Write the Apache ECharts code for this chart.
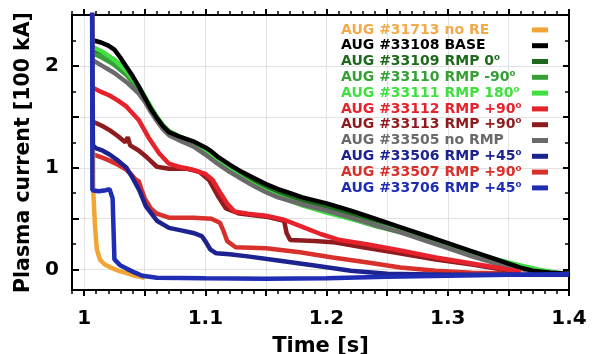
<!DOCTYPE html>
<html><head><meta charset="utf-8">
<script src="https://cdn.jsdelivr.net/npm/echarts@6/dist/echarts.min.js"></script>
<style>html,body{margin:0;padding:0;background:#fff}#c{width:594px;height:354px}</style>
</head><body><div id="c"></div>
<script>
// ---- data (time [s], plasma current [100 kA]) ----
const names = [
  'AUG #31713 no RE', 'AUG #33108 BASE', 'AUG #33109 RMP 0\u2070', 'AUG #33110 RMP -90\u2070',
  'AUG #33111 RMP 180\u2070', 'AUG #33112 RMP +90\u2070', 'AUG #33113 RMP +90\u2070', 'AUG #33505 no RMP',
  'AUG #33506 RMP +45\u2070', 'AUG #33507 RMP +90\u2070', 'AUG #33706 RMP +45\u2070'
];
const colors = ['#f0a535', '#000000', '#1d6a1d', '#36a036', '#3fe03f', '#e8222c', '#8e1b1e', '#6a6a6a', '#1c2290', '#d8302a', '#1f2db4'];
const legendTextColors = ['#f2ab48', '#000000', '#1d6a1d', '#36a036', '#3fe03f', '#e8222c', '#8e1b1e', '#6a6a6a', '#1c2290', '#d8302a', '#1f2db4'];

const s31713 = [[1.0068,2.6],[1.0075,0.78],[1.009,0.42],[1.0105,0.2],[1.013,0.1],[1.017,0.05],[1.022,0.02],[1.028,-0.01],[1.035,-0.035],[1.042,-0.06],[1.05,-0.08]];
const s33108 = [[1.008,2.25],[1.014,2.23],[1.02,2.2],[1.025,2.16],[1.03,2.08],[1.035,1.99],[1.04,1.9],[1.045,1.8],[1.05,1.69],[1.055,1.58],[1.06,1.49],[1.065,1.41],[1.07,1.35],[1.08,1.3],[1.09,1.26],[1.1,1.2],[1.105,1.16],[1.11,1.11],[1.12,1.03],[1.13,0.96],[1.14,0.9],[1.15,0.84],[1.16,0.79],[1.17,0.75],[1.18,0.71],[1.2,0.65],[1.22,0.58],[1.24,0.5],[1.26,0.42],[1.28,0.34],[1.3,0.26],[1.32,0.18],[1.34,0.1],[1.35,0.06],[1.36,0.02],[1.37,-0.01],[1.385,-0.03],[1.4,-0.04]];
const s33109 = [[1.008,2.16],[1.015,2.13],[1.025,2.06],[1.035,1.95],[1.045,1.79],[1.05,1.69],[1.055,1.58],[1.06,1.49],[1.065,1.41],[1.07,1.35],[1.08,1.29],[1.09,1.25],[1.1,1.19],[1.11,1.1],[1.12,1.01],[1.13,0.94],[1.14,0.87],[1.15,0.81],[1.16,0.76],[1.18,0.68],[1.2,0.61],[1.22,0.54],[1.24,0.47],[1.26,0.4],[1.28,0.32],[1.3,0.24],[1.32,0.16],[1.34,0.09],[1.355,0.04],[1.37,0.0],[1.385,-0.03],[1.4,-0.04]];
const s33110 = [[1.008,2.12],[1.015,2.08],[1.025,2.01],[1.035,1.91],[1.045,1.77],[1.05,1.68],[1.055,1.58],[1.06,1.48],[1.065,1.4],[1.07,1.34],[1.08,1.28],[1.09,1.23],[1.1,1.16],[1.11,1.06],[1.12,0.97],[1.13,0.9],[1.14,0.83],[1.15,0.77],[1.16,0.72],[1.18,0.64],[1.2,0.57],[1.22,0.5],[1.24,0.43],[1.26,0.37],[1.28,0.3],[1.3,0.22],[1.32,0.15],[1.34,0.08],[1.36,0.03],[1.37,0.0],[1.385,-0.03],[1.4,-0.04]];
const s33111 = [[1.008,2.18],[1.015,2.14],[1.025,2.06],[1.035,1.95],[1.045,1.8],[1.05,1.7],[1.055,1.6],[1.06,1.5],[1.065,1.42],[1.07,1.36],[1.08,1.3],[1.09,1.25],[1.1,1.18],[1.11,1.07],[1.12,0.98],[1.13,0.9],[1.14,0.83],[1.15,0.77],[1.16,0.72],[1.18,0.63],[1.2,0.56],[1.22,0.5],[1.24,0.44],[1.26,0.38],[1.28,0.31],[1.3,0.24],[1.32,0.17],[1.34,0.1],[1.36,0.04],[1.375,0.0],[1.39,-0.03],[1.4,-0.04]];
const s33112 = [[1.008,1.78],[1.015,1.74],[1.021,1.71],[1.028,1.66],[1.035,1.6],[1.045,1.47],[1.053,1.3],[1.062,1.14],[1.07,1.04],[1.078,1.01],[1.09,0.98],[1.1,0.94],[1.106,0.88],[1.112,0.76],[1.118,0.65],[1.124,0.57],[1.135,0.55],[1.15,0.53],[1.165,0.49],[1.18,0.42],[1.195,0.35],[1.211,0.29],[1.233,0.25],[1.26,0.19],[1.29,0.12],[1.32,0.06],[1.34,0.02],[1.36,-0.02]];
const s33113 = [[1.008,1.45],[1.015,1.41],[1.021,1.37],[1.028,1.31],[1.034,1.25],[1.036,1.3],[1.038,1.22],[1.045,1.17],[1.052,1.1],[1.06,1.01],[1.07,0.99],[1.085,0.99],[1.095,0.96],[1.103,0.88],[1.111,0.71],[1.117,0.6],[1.128,0.55],[1.15,0.52],[1.165,0.48],[1.167,0.36],[1.17,0.29],[1.19,0.28],[1.205,0.27],[1.23,0.22],[1.26,0.16],[1.29,0.1],[1.32,0.05],[1.34,0.01],[1.36,-0.03]];
const s33505 = [[1.008,2.05],[1.015,2.0],[1.025,1.93],[1.035,1.84],[1.045,1.73],[1.05,1.65],[1.055,1.55],[1.06,1.46],[1.065,1.38],[1.07,1.32],[1.08,1.26],[1.09,1.21],[1.1,1.13],[1.11,1.04],[1.12,0.96],[1.13,0.89],[1.14,0.82],[1.15,0.76],[1.16,0.71],[1.18,0.64],[1.2,0.58],[1.22,0.51],[1.24,0.44],[1.26,0.37],[1.28,0.29],[1.3,0.21],[1.32,0.13],[1.34,0.06],[1.355,0.02],[1.37,-0.02],[1.385,-0.03],[1.4,-0.04]];
const s33506 = [[1.0066,2.6],[1.0072,1.22],[1.01,1.19],[1.015,1.17],[1.021,1.13],[1.028,1.07],[1.035,1.0],[1.04,0.9],[1.0455,0.78],[1.051,0.62],[1.06,0.48],[1.07,0.41],[1.08,0.385],[1.09,0.36],[1.097,0.33],[1.1,0.28],[1.104,0.2],[1.109,0.16],[1.12,0.15],[1.135,0.13],[1.16,0.09],[1.19,0.04],[1.22,-0.01],[1.25,-0.04],[1.3,-0.05],[1.35,-0.05],[1.4,-0.05]];
const s33507 = [[1.008,1.13],[1.015,1.1],[1.021,1.07],[1.028,1.03],[1.035,0.98],[1.04,0.92],[1.043,0.88],[1.045,0.87],[1.047,0.8],[1.05,0.7],[1.055,0.6],[1.06,0.55],[1.07,0.51],[1.09,0.51],[1.105,0.5],[1.112,0.46],[1.115,0.38],[1.118,0.28],[1.125,0.22],[1.15,0.21],[1.178,0.17],[1.205,0.12],[1.234,0.07],[1.261,0.02],[1.29,-0.01],[1.32,-0.03],[1.36,-0.04]];
const s33706 = [[1.0066,2.6],[1.0068,0.78],[1.012,0.77],[1.018,0.78],[1.021,0.79],[1.0235,0.7],[1.0245,0.3],[1.025,0.1],[1.03,0.04],[1.035,0.01],[1.042,-0.03],[1.048,-0.06],[1.06,-0.08],[1.1,-0.085],[1.15,-0.09],[1.2,-0.085],[1.25,-0.07],[1.3,-0.06],[1.35,-0.05],[1.4,-0.045]];

const seriesData = [s31713, s33108, s33109, s33110, s33111, s33112, s33113, s33505, s33506, s33507, s33706];
// drawing order (back to front), indices into names
const drawOrder = [2, 3, 4, 7, 1, 9, 6, 5, 0, 8, 10];

// ---- axes ticks ----
const xRange = [0.99, 1.4];
const yRange = [-0.2, 2.5];
const xTickLabels = [1, 1.1, 1.2, 1.3, 1.4];
const xMajorTicks = [1, 1.05, 1.1, 1.15, 1.2, 1.25, 1.3, 1.35, 1.4];
const yTickLabels = [0, 1, 2];
const yMajorTicks = [0, 0.5, 1, 1.5, 2, 2.5];
const yMinorTicks = [0.25, 0.75, 1.25, 1.75, 2.25];

const FONT = 'DejaVu Sans';
const LEG_FS = 14;
const LEG_LH = 15.8;
const chart = echarts.init(document.getElementById('c'), null, {renderer: 'canvas'});

const rich = {};
names.forEach((n, i) => {
  rich['c' + i] = {color: legendTextColors[i], width: 186, align: 'left', fontFamily: FONT, fontWeight: 'bold', fontSize: LEG_FS, lineHeight: LEG_LH, height: LEG_LH};
});

const hidden = {show: false};
const xBase = {type: 'value', min: xRange[0], max: xRange[1], gridIndex: 0};
const yBase = {type: 'value', min: yRange[0], max: yRange[1], gridIndex: 0};

const option = {
  animation: false,
  backgroundColor: '#ffffff',
  grid: {left: 72, right: 25, top: 15, bottom: 64, containLabel: false, outerBoundsMode: 'none'},
  legend: {
    orient: 'vertical', left: 341, top: 22, padding: 0, itemGap: 0,
    align: 'right', icon: 'rect', itemWidth: 16, itemHeight: 5,
    data: names,
    formatter: name => '{c' + names.indexOf(name) + '|' + name + '}',
    textStyle: {fontFamily: FONT, fontWeight: 'bold', fontSize: LEG_FS, lineHeight: LEG_LH, rich: rich}
  },
  xAxis: [
    Object.assign({}, xBase, {
      position: 'bottom',
      name: 'Time [s]', nameLocation: 'middle', nameGap: 46,
      nameTextStyle: {fontFamily: FONT, fontWeight: 'bold', fontSize: 21, color: '#000'},
      axisLine: {show: true, onZero: false, lineStyle: {color: '#000', width: 2}},
      axisTick: {show: true, inside: false, length: 6, customValues: xMajorTicks, lineStyle: {color: '#000', width: 2}},
      axisLabel: {show: true, customValues: xTickLabels, margin: 19, fontFamily: FONT, fontWeight: 'bold', fontSize: 20, color: '#000', formatter: v => String(Math.round(v * 10) / 10)},
      splitLine: {show: true, lineStyle: {color: '#e2e2e2', width: 1}}
    }),
    Object.assign({}, xBase, {
      position: 'bottom', interval: 0.01,
      axisLine: {show: false, onZero: false},
      axisTick: {show: true, inside: false, length: 4, lineStyle: {color: '#000', width: 1.5}},
      axisLabel: hidden, splitLine: hidden
    }),
    Object.assign({}, xBase, {
      position: 'top',
      axisLine: {show: true, onZero: false, lineStyle: {color: '#000', width: 2}},
      axisTick: {show: true, inside: false, length: 6, customValues: xMajorTicks, lineStyle: {color: '#000', width: 2}},
      axisLabel: hidden, splitLine: hidden
    }),
    Object.assign({}, xBase, {
      position: 'top', interval: 0.01,
      axisLine: {show: false, onZero: false},
      axisTick: {show: true, inside: false, length: 4, lineStyle: {color: '#000', width: 1.5}},
      axisLabel: hidden, splitLine: hidden
    })
  ],
  yAxis: [
    Object.assign({}, yBase, {
      position: 'left',
      name: 'Plasma current [100 kA]', nameLocation: 'middle', nameGap: 38,
      nameTextStyle: {fontFamily: FONT, fontWeight: 'bold', fontSize: 20.5, color: '#000'},
      axisLine: {show: true, onZero: false, lineStyle: {color: '#000', width: 2}},
      axisTick: {show: true, inside: true, length: 7, customValues: yMajorTicks, lineStyle: {color: '#000', width: 2}},
      axisLabel: {show: true, customValues: yTickLabels, margin: 13, fontFamily: FONT, fontWeight: 'bold', fontSize: 20, color: '#000', formatter: v => String(Math.round(v))},
      splitLine: {show: true, lineStyle: {color: '#e2e2e2', width: 1}}
    }),
    Object.assign({}, yBase, {
      position: 'left',
      axisLine: {show: false, onZero: false},
      axisTick: {show: true, inside: true, length: 4, customValues: yMinorTicks, lineStyle: {color: '#000', width: 1.5}},
      axisLabel: hidden, splitLine: hidden
    }),
    Object.assign({}, yBase, {
      position: 'right',
      axisLine: {show: true, onZero: false, lineStyle: {color: '#000', width: 2}},
      axisTick: {show: true, inside: true, length: 6, customValues: yMajorTicks, lineStyle: {color: '#000', width: 2}},
      axisLabel: hidden, splitLine: hidden
    }),
    Object.assign({}, yBase, {
      position: 'right',
      axisLine: {show: false, onZero: false},
      axisTick: {show: true, inside: true, length: 4, customValues: yMinorTicks, lineStyle: {color: '#000', width: 1.5}},
      axisLabel: hidden, splitLine: hidden
    })
  ],
  series: drawOrder.map(i => ({
    name: names[i], type: 'line', data: seriesData[i],
    xAxisIndex: 0, yAxisIndex: 0,
    showSymbol: false, symbol: 'none', smooth: false, clip: true,
    color: colors[i],
    lineStyle: {color: colors[i], width: 4.5},
    itemStyle: {color: colors[i]},
    emphasis: {disabled: true}
  }))
};
chart.setOption(option);
</script></body></html>
